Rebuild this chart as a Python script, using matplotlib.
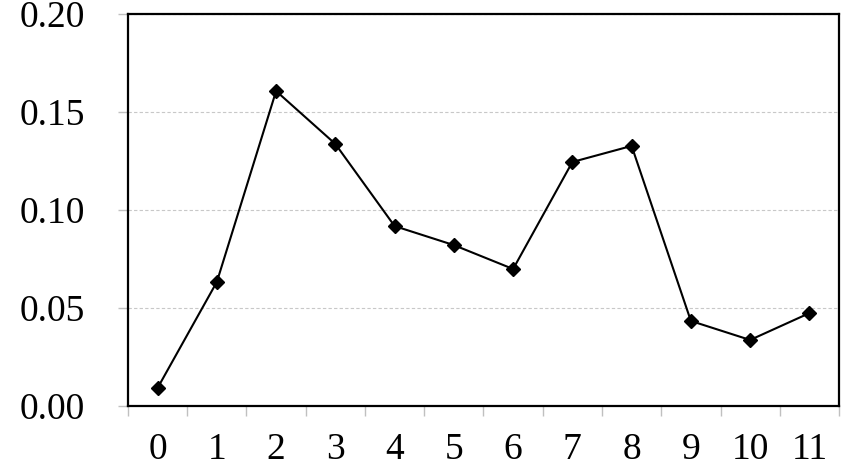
import matplotlib.pyplot as plt
from matplotlib.ticker import FixedLocator, FormatStrFormatter

# données
categories = [str(i) for i in range(12)]
valeurs = [0.0092, 0.0633, 0.1607, 0.1337, 0.0918, 0.0821,
           0.0699, 0.1245, 0.1327, 0.0434, 0.0337, 0.0474]
y_ticks = [0.00, 0.05, 0.10, 0.15, 0.20]

plt.rcParams['font.family'] = ['Liberation Serif', 'DejaVu Serif']

fig = plt.figure(figsize=(8.48, 4.73), dpi=100)
ax = fig.add_axes([0.1509, 0.1416, 0.8385, 0.8288])

x = list(range(len(categories)))
ax.plot(x, valeurs, color='black', linewidth=1.5, marker='D',
        markersize=7.5, markerfacecolor='black', markeredgecolor='black',
        zorder=3)

ax.set_xlim(-0.5, len(categories) - 0.5)
ax.set_ylim(0, 0.20)

# axe des y
ax.set_yticks(y_ticks)
ax.yaxis.set_major_formatter(FormatStrFormatter('%.2f'))
ax.grid(axis='y', color='#c8c8c8', linestyle=(0, (3, 2)), linewidth=0.8)
ax.set_axisbelow(True)

# axe des x : graduations entre les catégories
ax.xaxis.set_major_locator(FixedLocator([i - 0.5 for i in range(len(categories) + 1)]))
ax.set_xticklabels([])
ax.xaxis.set_minor_locator(FixedLocator(x))
ax.set_xticklabels(categories, minor=True)

ax.tick_params(axis='y', which='major', length=7, width=1, color='#c0c0c0',
               labelsize=27, pad=24)
ax.tick_params(axis='x', which='major', length=7, width=1, color='#c0c0c0')
ax.tick_params(axis='x', which='minor', length=0, labelsize=27, pad=19)

for s in ax.spines.values():
    s.set_linewidth(1.6)
    s.set_color('black')

fig.savefig('out.png', dpi=100)
